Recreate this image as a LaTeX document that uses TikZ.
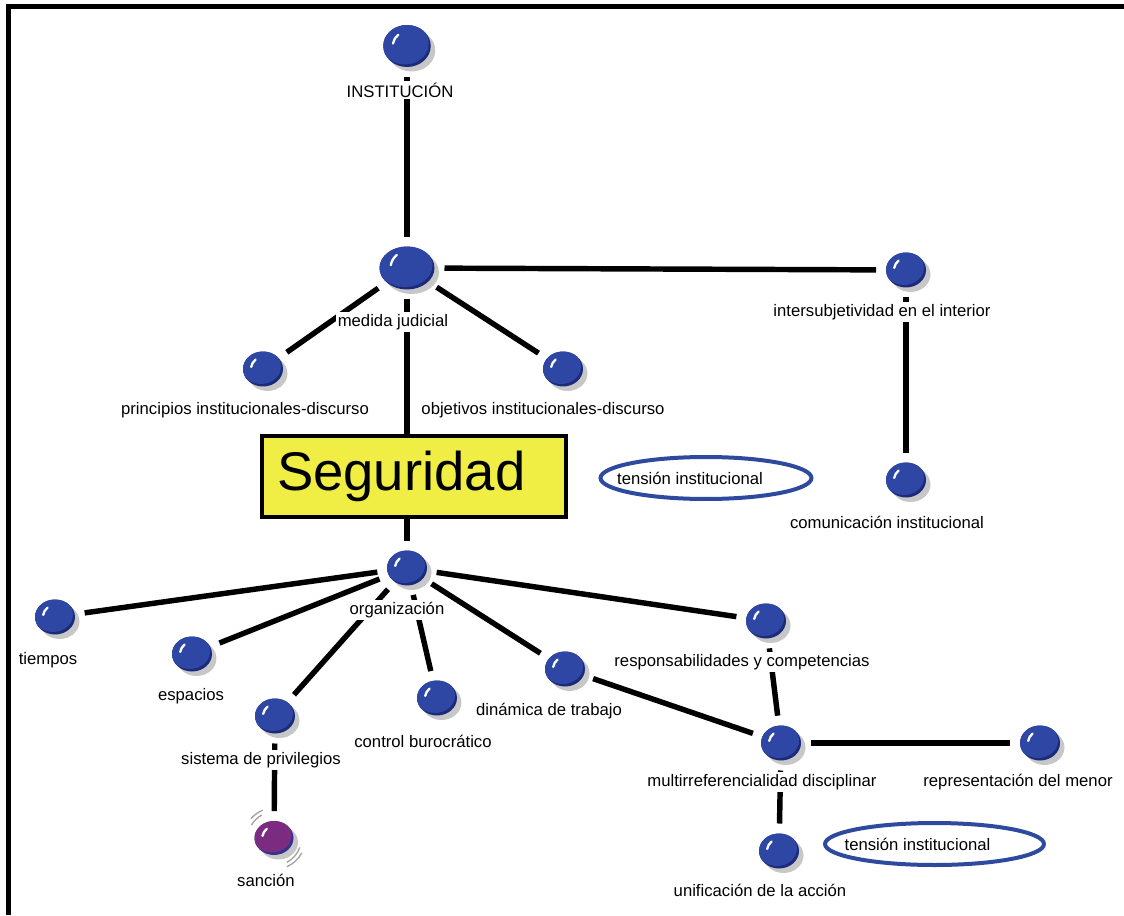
\documentclass[tikz,border=0pt]{standalone}
\usepackage{fontspec}
\setmainfont{Liberation Sans}
\usepackage{tikz}
\usetikzlibrary{shapes.geometric, shadows, backgrounds, positioning, calc}
\definecolor{bolaazul}{HTML}{2E47A5}
\definecolor{bolaoscuro}{HTML}{1C2A7A}
\definecolor{bolamorada}{HTML}{7B2C80}
\definecolor{bolamoradaborde}{HTML}{33338C}
\definecolor{amarillo}{HTML}{F0EE44}
\definecolor{elipseazul}{HTML}{2D4A9E}

\tikzset{
  bola/.style n args={4}{ellipse, minimum width=#1, minimum height=#2, inner sep=0pt, outer sep=0.2cm,
    fill=#4, drop shadow={shadow xshift=0.09cm, shadow yshift=-0.09cm, fill=black!22, opacity=1},
    path picture={
      \fill[#3] ([shift={(-0.04cm,0.05cm)}]path picture bounding box.center) ellipse [x radius=#1/2, y radius=#2/2];
      \draw[white, line width=1.3pt, line cap=round] ([shift={(170:0.3*#1)}]path picture bounding box.center)
        arc [start angle=170, end angle=128, radius=0.3*#1];
    }},
  bolita/.style={bola={0.8cm}{0.7cm}{bolaazul}{bolaoscuro}},
  etiqueta/.style={fill=white, inner sep=1pt, font=\fontsize{9.5}{11}\selectfont},
  caja/.style={draw, line width=0.08cm, fill=amarillo, text width=5.48cm, align=left, inner xsep=0.3cm,
    minimum height=1.62cm, font=\fontsize{31}{36}\selectfont},
  elipsetension/.style={ellipse, draw=elipseazul, line width=0.08cm, minimum width=4.22cm, minimum height=0.84cm,
    inner sep=0pt},
  linea/.style={line width=3.1pt},
  vaiven/.style={gray!70, line width=0.8pt}
}

\begin{document}
\begin{tikzpicture}[x=0.02cm, y=-0.02cm]
  \useasboundingbox (0,0) rectangle (1124,915);
  \draw[line width=0.1cm] (8.5,915) -- (8.5,6.5) -- (1124,6.5);

  \node[bola={0.95cm}{0.84cm}{bolaazul}{bolaoscuro}] (institucion) at (407,46) {};
  \node[etiqueta] (l-institucion) at (400,90) {INSTITUCIÓN};

  \node[bola={1.1cm}{0.86cm}{bolaazul}{bolaoscuro}] (medida) at (407,268) {};
  \node[etiqueta] (l-medida) at (393,322) {medida judicial};
  \node[bolita] (principios) at (263,369) {};
  \node[etiqueta] (l-principios) at (245,410) {principios institucionales-discurso};
  \node[bolita] (objetivos) at (563,369) {};
  \node[etiqueta] (l-objetivos) at (543,410) {objetivos institucionales-discurso};

  \node[bolita] (intersubjetividad) at (906,270) {};
  \node[etiqueta] (l-intersubjetividad) at (882,312) {intersubjetividad en el interior};
  \node[bolita] (comunicacion) at (906,480) {};
  \node[etiqueta] (l-comunicacion) at (887,522) {comunicación institucional};

  \node[caja] (seguridad) at (414,476.5) {Seguridad};
  \node[elipsetension, label={[etiqueta, fill=none, xshift=-0.32cm]center:tensión institucional}] (tension1) at (706,478) {};

  \node[bolita] (organizacion) at (407,568) {};
  \node[etiqueta] (l-organizacion) at (397,610) {organización};
  \node[bolita] (tiempos) at (55,617) {};
  \node[etiqueta] (l-tiempos) at (48,660) {tiempos};
  \node[bolita] (espacios) at (192,654) {};
  \node[etiqueta] (l-espacios) at (191,696) {espacios};
  \node[bolita] (privilegios) at (275,716) {};
  \node[etiqueta] (l-privilegios) at (261,760) {sistema de privilegios};
  \node[bola={0.78cm}{0.68cm}{bolamorada}{bolamoradaborde}] (sancion) at (274,838) {};
  \node[etiqueta] (l-sancion) at (266,880) {sanción};
  \node[bolita] (control) at (437,698) {};
  \node[etiqueta] (l-control) at (423,741) {control burocrático};
  \node[bolita] (dinamica) at (565,669) {};
  \node[etiqueta] (l-dinamica) at (549,711) {dinámica de trabajo};
  \node[bolita] (responsabilidades) at (766,621) {};
  \node[etiqueta] (l-responsabilidades) at (742,662) {responsabilidades y competencias};
  \node[bolita] (multi) at (781,743) {};
  \node[etiqueta] (l-multi) at (762,782) {multirreferencialidad disciplinar};
  \node[bolita] (representacion) at (1040,743) {};
  \node[etiqueta] (l-representacion) at (1018,782) {representación del menor};
  \node[bolita] (unificacion) at (779,851) {};
  \node[etiqueta] (l-unificacion) at (760,890) {unificación de la acción};
  \node[elipsetension, minimum width=4.38cm, label={[etiqueta, fill=none, xshift=-0.34cm]center:tensión institucional}] (tension2) at (934.5,844) {};

  \draw[vaiven] (sancion.center) ++(118:0.52cm) arc [start angle=118, end angle=150, radius=0.52cm];
  \draw[vaiven] (sancion.center) ++(112:0.6cm) arc [start angle=112, end angle=140, radius=0.6cm];
  \draw[vaiven] (sancion.center) ++(-20:0.55cm) arc [start angle=-20, end angle=-62, radius=0.55cm];
  \draw[vaiven] (sancion.center) ++(-28:0.63cm) arc [start angle=-28, end angle=-66, radius=0.63cm];

  \begin{scope}[on background layer]
    \draw[linea] (institucion) -- (medida);
    \draw[linea] (medida) -- (intersubjetividad);
    \draw[linea] (medida) -- (principios);
    \draw[linea] (medida) -- (objetivos);
    \draw[linea] (medida) -- (medida |- seguridad.north);
    \draw[linea] (intersubjetividad) -- (comunicacion);
    \draw[linea] (organizacion |- seguridad.south) -- (organizacion);
    \draw[linea] (organizacion) -- (tiempos);
    \draw[linea] (organizacion) -- (espacios);
    \draw[linea] (organizacion) -- (privilegios);
    \draw[linea] (organizacion) -- (control);
    \draw[linea] (organizacion) -- (dinamica);
    \draw[linea] (organizacion) -- (responsabilidades);
    \draw[linea] (privilegios) -- (sancion);
    \draw[linea] (dinamica) -- (multi);
    \draw[linea] (responsabilidades) -- (multi);
    \draw[linea] (multi) -- (representacion);
    \draw[linea] (multi) -- (unificacion);
  \end{scope}
\end{tikzpicture}
\end{document}
